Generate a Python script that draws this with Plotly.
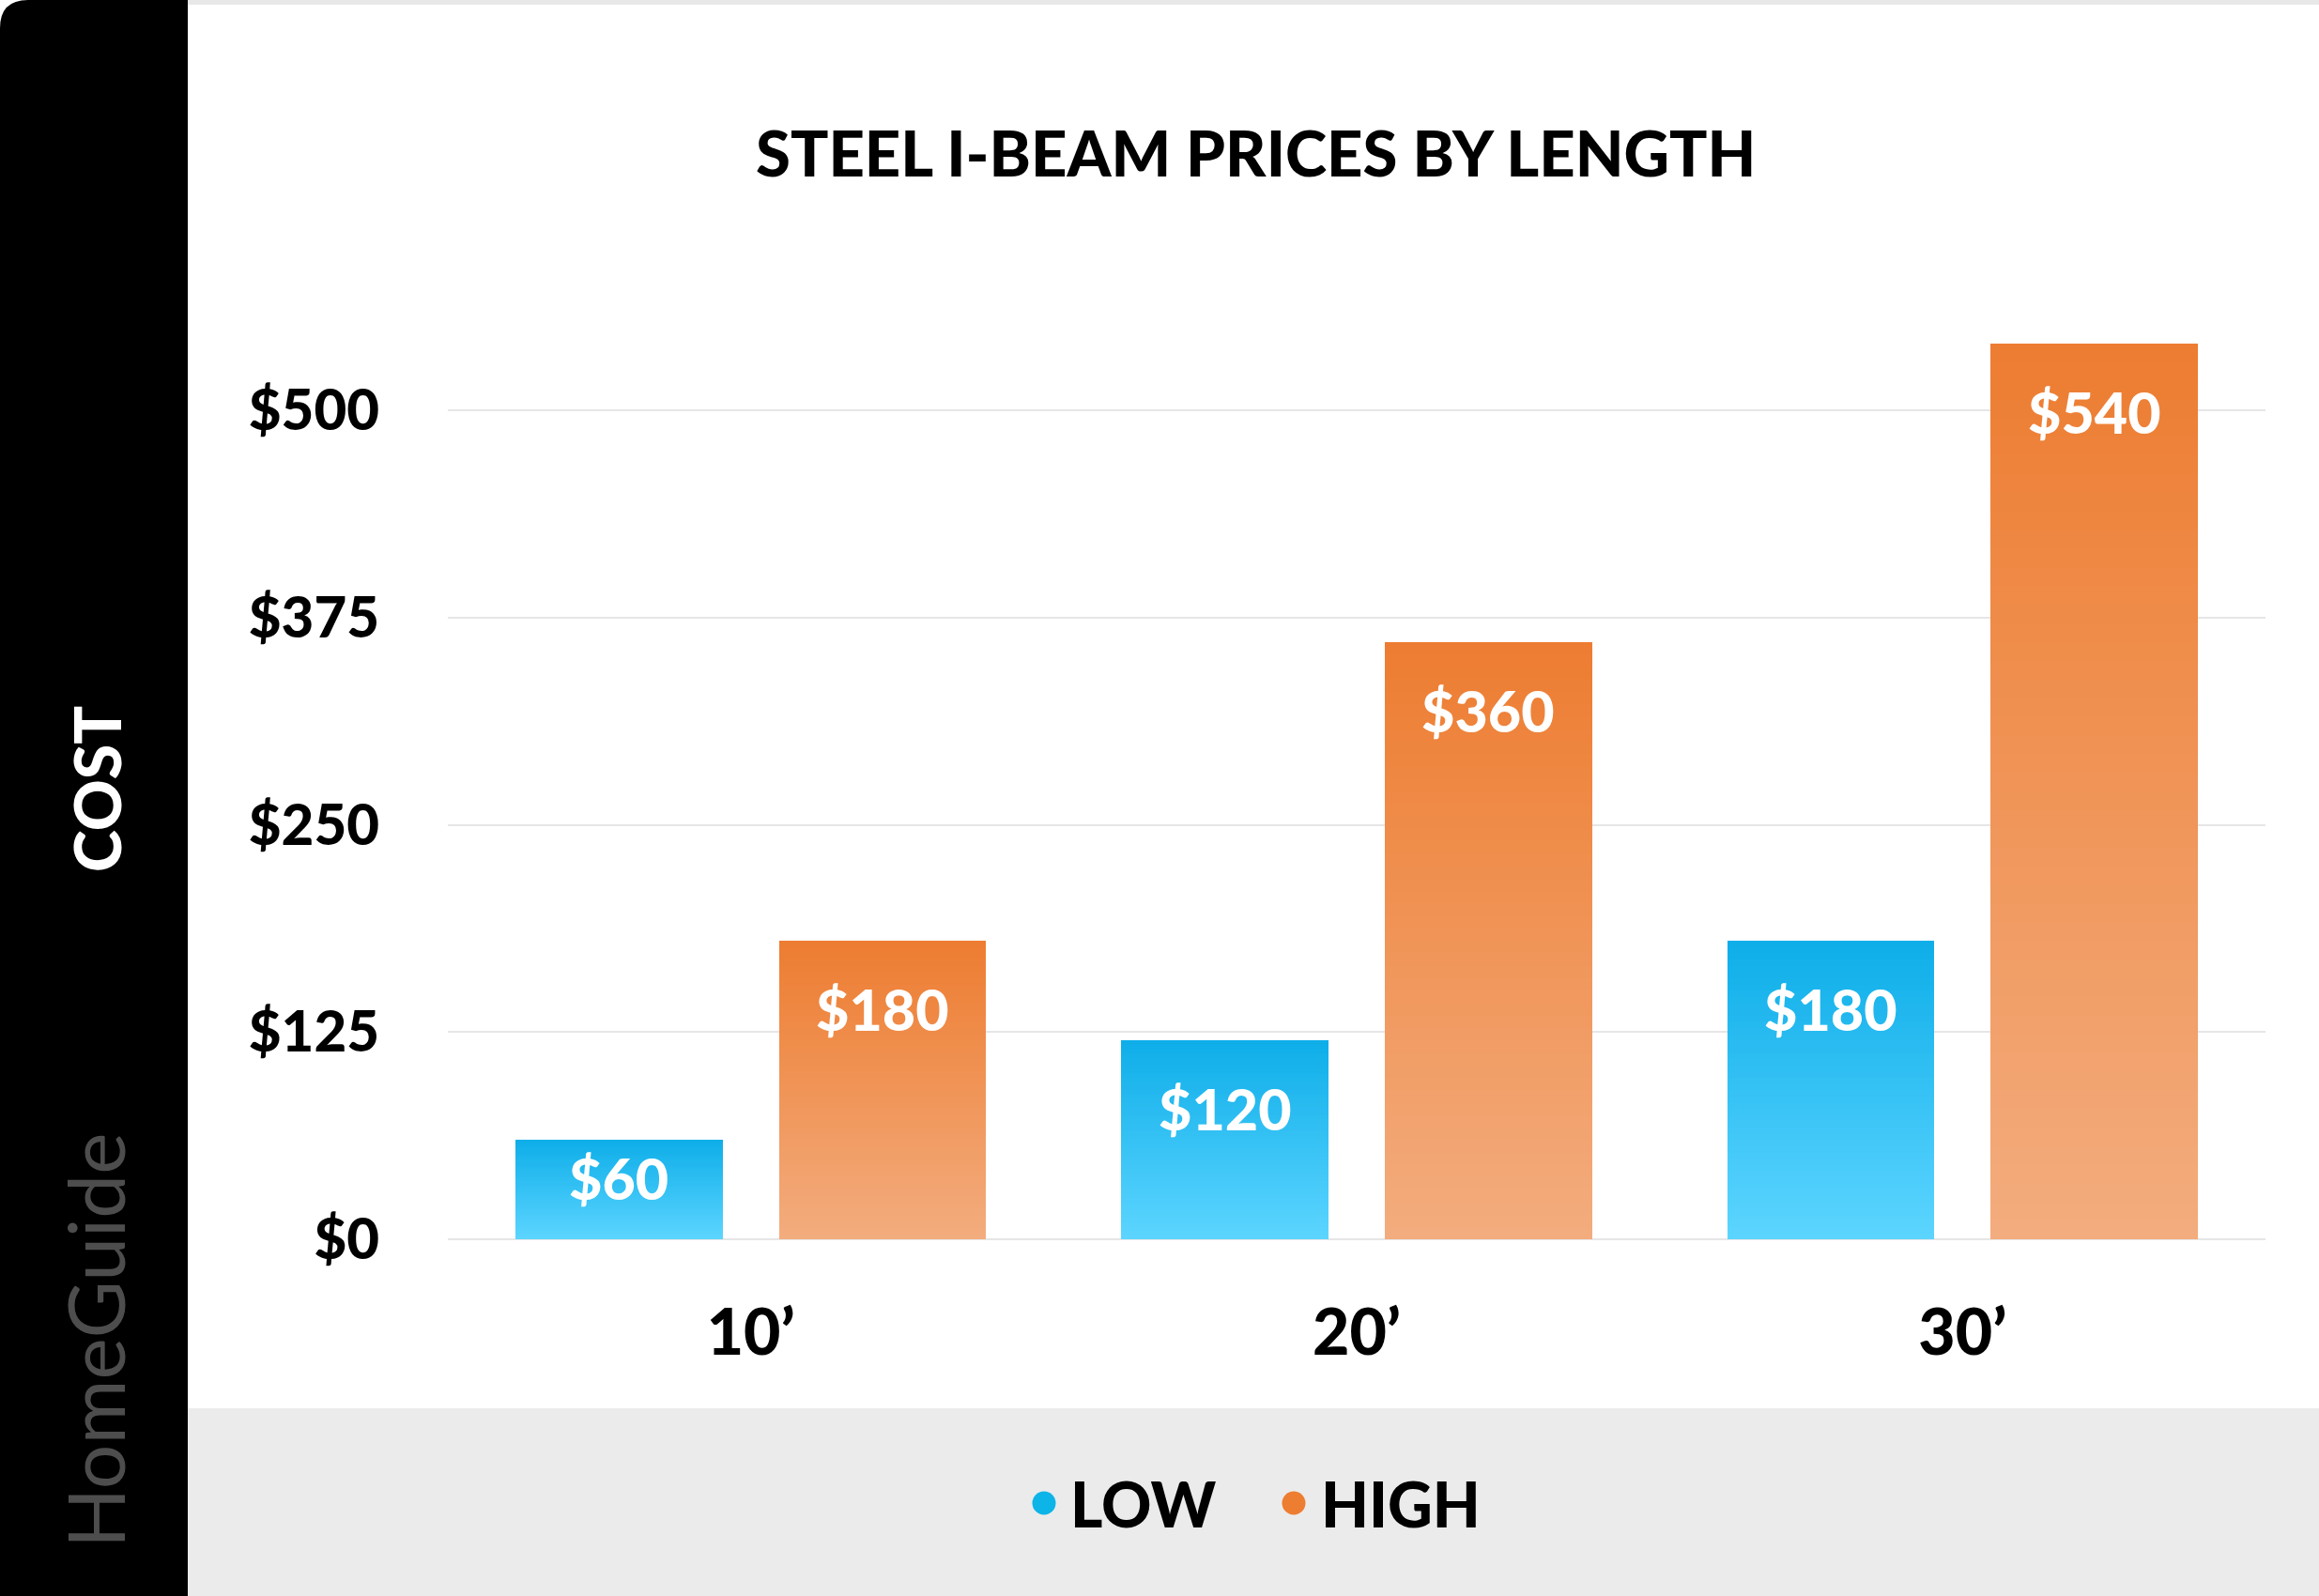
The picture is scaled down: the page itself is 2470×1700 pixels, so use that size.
import plotly.graph_objects as go

# ---------------- data ----------------
categories = ["10’", "20’", "30’"]
low_values = [60, 120, 180]
high_values = [180, 360, 540]
series_names = ["LOW", "HIGH"]
tick_values = [0, 125, 250, 375, 500]
tick_labels = ["$0", "$125", "$250", "$375", "$500"]
title_text = "STEEL I-BEAM PRICES BY LENGTH"
axis_label = "COST"
brand_text = "HomeGuide"

# ---------------- layout geometry (pixels) ----------------
W, H = 2470, 1700
ML, MR, MT, MB = 477, 57, 313, 362
PW, PH = W - ML - MR, H - MT - MB
Y0, Y1 = -10, 570
PX_PER_UNIT = PH / (Y1 - Y0)


def px2x(px):
    return (px - ML) / PW


def py2y(py):
    return (H - MB - py) / PH


FONT = "Lato, 'Open Sans', 'DejaVu Sans', sans-serif"

# colours: (bottom, top) of the gradient
low_grad = ((92, 213, 255), (14, 174, 233))
high_grad = ((243, 172, 126), (237, 125, 49))
low_dot = "#0DB4E8"
high_dot = "#ED7D31"

BAR_W = 0.342
GAP = 0.093
offsets = [-GAP / 2 - BAR_W, GAP / 2]

N_SEG = 48


def mix(c0, c1, t):
    return "rgb(%d,%d,%d)" % tuple(round(a + (b - a) * t) for a, b in zip(c0, c1))


fig = go.Figure()

for vals, grad, off in [(low_values, low_grad, offsets[0]), (high_values, high_grad, offsets[1])]:
    for k in range(N_SEG):
        frac = k / N_SEG
        bases = [v * frac for v in vals]
        heights = [v - b for v, b in zip(vals, bases)]
        fig.add_trace(go.Bar(
            x=categories, y=heights, base=bases,
            offset=off, width=BAR_W,
            marker=dict(color=mix(grad[0], grad[1], (k + 0.5) / N_SEG), line=dict(width=0)),
            showlegend=False, hoverinfo="skip",
        ))

# legend entries (circle dots)
for name, col in zip(series_names, [low_dot, high_dot]):
    fig.add_trace(go.Scatter(
        x=[None], y=[None], mode="markers", name=name,
        marker=dict(symbol="circle", size=6, color=col, line=dict(width=0)),
    ))

# value labels inside bars
annotations = []
for vals, off in [(low_values, offsets[0]), (high_values, offsets[1])]:
    xs = (off + BAR_W / 2) * (PW / 3.0)
    for c, v in zip(categories, vals):
        bar_px = v * PX_PER_UNIT
        annotations.append(dict(
            x=c, y=v, xref="x", yref="y", text="$%d" % v, showarrow=False,
            xshift=xs, yshift=-min(72, 0.38 * bar_px), yanchor="middle",
            font=dict(family=FONT, size=61, color="white", weight=900),
        ))

# side texts
annotations.append(dict(
    x=px2x(102), y=py2y(841), xref="paper", yref="paper", text=axis_label,
    textangle=-90, showarrow=False, xanchor="center", yanchor="middle",
    font=dict(family=FONT, size=68, color="white", weight=900),
))
annotations.append(dict(
    x=px2x(100), y=py2y(1428), xref="paper", yref="paper", text=brand_text,
    textangle=-90, showarrow=False, xanchor="center", yanchor="middle",
    font=dict(family=FONT, size=84, color="#4d4d4d"),
))
annotations.append(dict(
    x=px2x(1337), y=py2y(162), xref="paper", yref="paper", text=title_text,
    showarrow=False, xanchor="center", yanchor="middle",
    font=dict(family=FONT, size=67, color="black", weight=900),
))

r = 30
shapes = [
    # bottom grey band
    dict(type="rect", xref="paper", yref="paper", layer="below",
         x0=px2x(195), x1=px2x(W), y0=py2y(H), y1=py2y(1500),
         fillcolor="#EBEBEB", line=dict(width=0)),
    # top thin grey border
    dict(type="rect", xref="paper", yref="paper", layer="below",
         x0=px2x(195), x1=px2x(W), y0=py2y(5), y1=py2y(0),
         fillcolor="#E8E8E8", line=dict(width=0)),
    # black left band with rounded top-left corner
    dict(type="path", xref="paper", yref="paper", layer="below",
         path="M %f,%f L %f,%f L %f,%f L %f,%f Q %f,%f %f,%f Z" % (
             px2x(0), py2y(H), px2x(200), py2y(H), px2x(200), py2y(0),
             px2x(r), py2y(0), px2x(0), py2y(0), px2x(0), py2y(r)),
         fillcolor="black", line=dict(width=0)),
]

# larger legend dots (legend symbols are size-capped by plotly)
dot_r = 12.5
for cx, col in [(1112, low_dot), (1378, high_dot)]:
    shapes.append(dict(
        type="circle", xref="paper", yref="paper", layer="above",
        x0=px2x(cx - dot_r), x1=px2x(cx + dot_r),
        y0=py2y(1601 + dot_r), y1=py2y(1601 - dot_r),
        fillcolor=col, line=dict(width=0),
    ))

fig.update_layout(
    width=W, height=H,
    margin=dict(l=ML, r=MR, t=MT, b=MB, autoexpand=False),
    paper_bgcolor="white", plot_bgcolor="white",
    barmode="overlay", bargap=0,
    showlegend=True,
    legend=dict(orientation="h", x=px2x(1367), y=py2y(1601), xanchor="center", yanchor="middle",
                font=dict(family=FONT, size=66, color="black", weight=900),
                bgcolor="rgba(0,0,0,0)", itemsizing="trace", entrywidth=222),
    xaxis=dict(type="category", range=[-0.5, 2.5], showgrid=False, zeroline=False, showline=False,
               ticks="", ticklabelstandoff=36,
               tickfont=dict(family=FONT, size=68, color="black", weight=900)),
    yaxis=dict(range=[Y0, Y1], tickvals=tick_values, ticktext=tick_labels,
               showgrid=True, gridcolor="#E6E6E6", gridwidth=1.5, zeroline=False, showline=False,
               ticks="", ticklabelstandoff=72,
               tickfont=dict(family=FONT, size=60, color="black", weight=900)),
    annotations=annotations, shapes=shapes,
)

fig.write_html(
    "out.html",
    config={"displayModeBar": False},
    post_script="document.body.style.margin='0';document.body.style.overflow='hidden';",
)
